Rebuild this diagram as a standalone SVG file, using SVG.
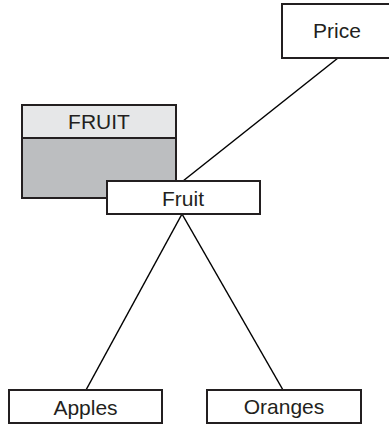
<svg xmlns="http://www.w3.org/2000/svg" width="389" height="425" viewBox="0 0 389 425">
  <style>
    .box { fill: #ffffff; stroke: #231f20; stroke-width: 2; }
    .head { fill: #e6e7e8; stroke: #231f20; stroke-width: 2; }
    .body { fill: #bcbec0; stroke: #231f20; stroke-width: 2; }
    .link { stroke: #000000; stroke-width: 1.5; fill: none; }
    text { font-family: "Liberation Sans", Arial, sans-serif; font-size: 21px; fill: #231f20; text-anchor: middle; }
  </style>

  <!-- connectors -->
  <g id="connectors">
    <line class="link" x1="338" y1="58" x2="183" y2="181"/>
    <line class="link" x1="182" y1="214" x2="86" y2="390"/>
    <line class="link" x1="182" y1="214" x2="283" y2="390"/>
  </g>

  <!-- table FRUIT -->
  <g id="table-fruit">
    <rect class="body" x="22" y="105" width="154" height="93"/>
    <rect class="head" x="22" y="105" width="154" height="33"/>
    <text x="99" y="129">FRUIT</text>
  </g>

  <g id="node-price">
    <rect class="box" x="282" y="4" width="108" height="54"/>
    <text x="337" y="38">Price</text>
  </g>

  <g id="node-fruit">
    <rect class="box" x="107" y="181" width="153" height="33"/>
    <text x="183" y="206">Fruit</text>
  </g>

  <g id="node-apples">
    <rect class="box" x="9" y="390" width="153" height="33"/>
    <text x="85.5" y="415">Apples</text>
  </g>

  <g id="node-oranges">
    <rect class="box" x="207" y="390" width="154" height="33"/>
    <text x="284" y="414">Oranges</text>
  </g>
</svg>
